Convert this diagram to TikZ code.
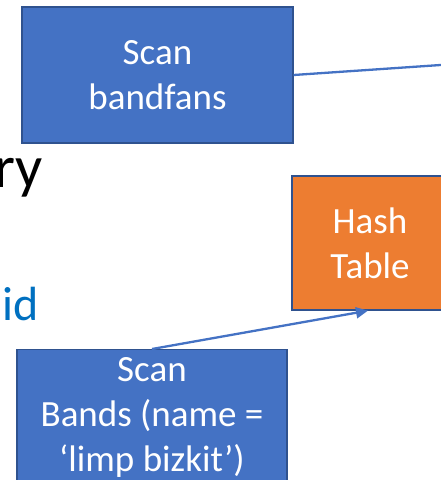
\documentclass[tikz,border=0pt]{standalone}
\usepackage{fontspec}
\setmainfont{Carlito}
\usetikzlibrary{arrows.meta}
\definecolor{boxblue}{HTML}{4472C4}
\definecolor{edgeblue}{HTML}{2F528F}
\definecolor{hashorange}{HTML}{ED7D31}
\definecolor{textblue}{HTML}{0070C0}
\begin{document}
\begin{tikzpicture}[x=1pt,y=-1pt,
  opbox/.style={draw=edgeblue, line width=1.3pt, fill=boxblue, text=white,
    align=center, font=\fontsize{37}{45}\selectfont, inner sep=0pt},
  link/.style={draw=boxblue, line width=2.3pt},
  slidetext/.style={anchor=base east, inner sep=0pt}]
\useasboundingbox (0,0) rectangle (441,480);
\begin{scope}
\clip (0,0) rectangle (441,480);
% operator boxes
\node[opbox, minimum width=271pt, minimum height=136pt] (fans) at (157.5,75) {Scan\\bandfans};
\node[opbox, fill=hashorange, minimum width=156pt, minimum height=134pt] (hash) at (370,243) {Hash\\Table};
\node[opbox, minimum width=270pt, minimum height=136pt, anchor=north] (bands) at (152,349) {Scan\\Bands (name =\\‘limp bizkit’)};
% slide text cut at the left edge
\node[slidetext, font=\fontsize{60}{72}\selectfont] (ry) at (43,187) {ry};
\node[slidetext, text=textblue, font=\fontsize{48}{58}\selectfont] (id) at (39,320) {id};
% connectors
\coordinate (out) at (470,63);
\draw[link] (fans.east) -- (out);
\draw[link, -{Triangle[length=12pt,width=11pt]}] (bands.north) -- ([xshift=-2pt]hash.south);
\end{scope}
\end{tikzpicture}
\end{document}
